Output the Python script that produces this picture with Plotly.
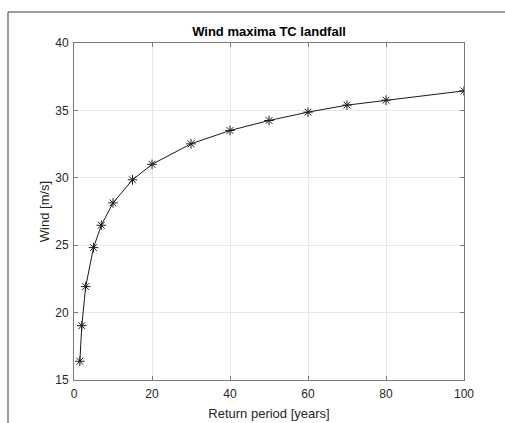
import plotly.graph_objects as go

# Return periods (years) and corresponding landfall wind maxima (m/s)
return_period = [1.5, 2, 3, 5, 7, 10, 15, 20, 30, 40, 50, 60, 70, 80, 100]
wind_maxima = [16.39, 19.03, 21.93, 24.82, 26.48, 28.14, 29.85, 31.0,
               32.52, 33.51, 34.25, 34.87, 35.39, 35.76, 36.45]

x_ticks = [0, 20, 40, 60, 80, 100]
y_ticks = [15, 20, 25, 30, 35, 40]

W, H = 505, 423
L, R, T, B = 74, 41, 43, 43
pw, ph = W - L - R, H - T - B

font_family = "Liberation Sans, Arial, sans-serif"
axis_color = "#7a7a7a"
text_color = "#262626"

fig = go.Figure()
fig.add_trace(go.Scatter(
    x=return_period, y=wind_maxima,
    mode="lines+markers",
    line=dict(color="#1a1a1a", width=1),
    marker=dict(symbol="asterisk-open", size=8,
                line=dict(color="#1a1a1a", width=1)),
    showlegend=False,
))

axis_common = dict(
    showline=True, linecolor=axis_color, linewidth=1, mirror="ticks",
    ticks="inside", ticklen=4, tickcolor=axis_color,
    showgrid=True, gridcolor="#e8e8e8", gridwidth=1, zeroline=False,
    automargin=False,
    tickfont=dict(family=font_family, size=12, color=text_color),
)

fig.update_xaxes(range=[0, 100], tickvals=x_ticks, ticklabelstandoff=3,
                 title=dict(text="Return period [years]", standoff=8,
                            font=dict(family=font_family, size=13, color=text_color)),
                 **axis_common)
fig.update_yaxes(range=[15, 40], tickvals=y_ticks, ticklabelstandoff=2,
                 title=dict(text="Wind [m/s]", standoff=2,
                            font=dict(family=font_family, size=13, color=text_color)),
                 **axis_common)

# Figure frame along the top and left edges
fx0 = (8 - L) / pw
fy0 = (H - B - 12) / ph
fig.add_shape(type="line", xref="paper", yref="paper",
              x0=fx0, y0=fy0, x1=(W - L) / pw + 0.01, y1=fy0,
              line=dict(color="#3a3a3a", width=1))
fig.add_shape(type="line", xref="paper", yref="paper",
              x0=fx0, y0=fy0, x1=fx0, y1=-B / ph - 0.01,
              line=dict(color="#3a3a3a", width=1))

fig.update_layout(
    width=W, height=H,
    margin=dict(l=L, r=R, t=T, b=B),
    paper_bgcolor="white", plot_bgcolor="white",
    title=dict(text="<b>Wind maxima TC landfall</b>", x=(L + pw / 2) / W,
               xanchor="center", y=1 - 31 / H, yanchor="middle",
               font=dict(family=font_family, size=13, color="black")),
)

fig.write_html("out.html")
